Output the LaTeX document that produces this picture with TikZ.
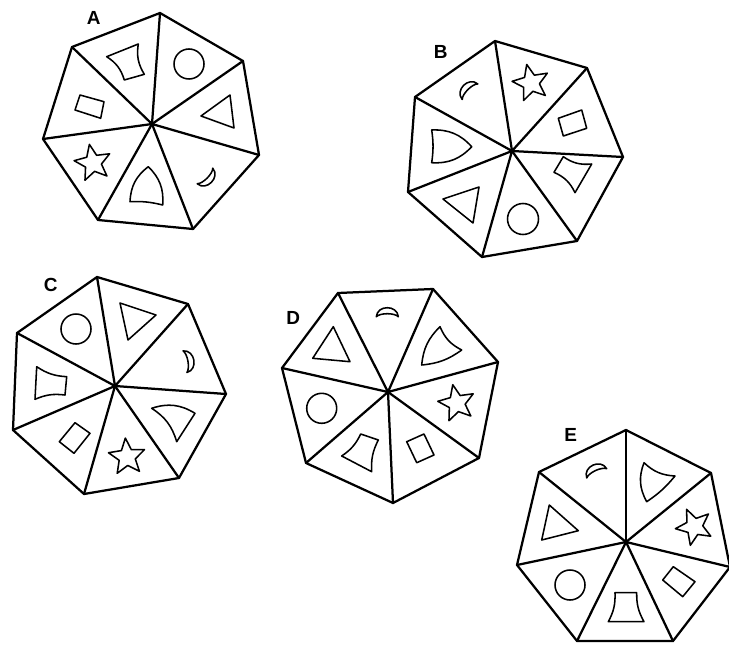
\documentclass[tikz,border=0pt]{standalone}
\usepackage{fontspec}
\setsansfont{Liberation Sans}
\usepackage{tkz-euclide}
\usetikzlibrary{calc}

\tikzset{
  shapeline/.style={line width=1.1pt,line join=round},
  tag/.style={font=\sffamily\bfseries\fontsize{13.5}{15}\selectfont,inner sep=0pt},
  starpic/.pic={
    \draw[shapeline] (90:19) \foreach \k in {1,...,4}{ -- ({90+72*\k-36}:8.5) -- ({90+72*\k}:19)} -- (54:8.5) -- cycle;
  },
  moonpic/.pic={
    \draw[shapeline] (-11,0) .. controls (-10,-12) and (10,-12) .. (11,0)
      .. controls (7,-4) and (-7,-4) .. (-11,0) -- cycle;
  }
}

\begin{document}
\begin{tikzpicture}[x=.25mm,y=.25mm]
\useasboundingbox (0,0) rectangle (729,646);
\tkzSetUpLine[line width=1.6pt,color=black]

% Figure A
\tkzDefPoints{152/522/aO,160/633/a1,243/585/a2,259/491/a3,193/417/a4,98/426/a5,43/507/a6,72/599/a7}
\tkzDrawPolygon[line width=1.6pt,line join=round](a1,a2,a3,a4,a5,a6,a7)
\tkzDrawSegments[line width=1.6pt](aO,a1 aO,a2 aO,a3 aO,a4 aO,a5 aO,a6 aO,a7)
\fill (aO) circle (2.5);
\node[tag] (labA) at (93.7,627.7) {A};

\draw[shapeline] (106.7,589.3) -- (138.3,602) to[bend right=20] (144.3,571.7) -- (124.3,566) to[bend right=20] (106.7,589.3) -- cycle;
\draw[shapeline] (189,582) circle (15);
\draw[shapeline] (230,551) -- (201,530) -- (234,518) -- cycle;
\pic[rotate=45] at (205,470) {moonpic};
\draw[shapeline] (148.3,479.3) to[bend left=25] (162.7,441) to[bend right=8] (130,444.3) to[bend left=25] (148.3,479.3) -- cycle;
\pic[rotate=11] at (93,483) {starpic};
\draw[shapeline] (80,551) -- (104,544.3) -- (100.7,527.7) -- (75,536) -- cycle;

% Figure B
\tkzDefPoints{512/495/bO,495/605/b1,587/578/b2,623/489/b3,577/405/b4,482/389/b5,408/454/b6,415/549/b7}
\tkzDrawPolygon[line width=1.6pt,line join=round](b1,b2,b3,b4,b5,b6,b7)
\tkzDrawSegments[line width=1.6pt](bO,b1 bO,b2 bO,b3 bO,b4 bO,b5 bO,b6 bO,b7)
\fill (bO) circle (2.5);
\node[tag] (labB) at (440.7,594.3) {B};

\pic[rotate=225] at (470,554.3) {moonpic};
\pic[rotate=13] at (531,563) {starpic};
\draw[shapeline] (558.3,527.7) -- (581.7,536) -- (586.7,517.7) -- (563.3,510) -- cycle;
\draw[shapeline] (563.3,489.3) to[bend right=20] (591.7,482) -- (575,453.3) to[bend right=20] (554,473.7) -- cycle;
\draw[shapeline] (523,427) circle (15.5);
\draw[shapeline] (443,447) -- (479,459) -- (473,423) -- cycle;
\draw[shapeline] (431.7,516) to[bend left=25] (471.7,499.3) to[bend left=25] (431.7,483.3) to[bend right=8] (431.7,516) -- cycle;

% Figure C
\tkzDefPoints{115/260/cO,97/369/c1,188/342/c2,226/252/c3,179/168/c4,84/152/c5,13/216/c6,17/313/c7}
\tkzDrawPolygon[line width=1.6pt,line join=round](c1,c2,c3,c4,c5,c6,c7)
\tkzDrawSegments[line width=1.6pt](cO,c1 cO,c2 cO,c3 cO,c4 cO,c5 cO,c6 cO,c7)
\fill (cO) circle (2.5);
\node[tag] (labC) at (50.7,361) {C};

\draw[shapeline] (76,317) circle (15);
\draw[shapeline] (120,343) -- (156,331) -- (128,306) -- cycle;
\pic[rotate=100] at (185,284.3) {moonpic};
\draw[shapeline] (151.7,237.7) to[bend left=25] (195,232.7) -- (176.7,204.3) to[bend right=20] (151.7,237.7) -- cycle;
\pic[rotate=5] at (127,189) {starpic};
\draw[shapeline] (75,223.3) -- (90,212.7) -- (74,192.7) -- (59.3,204.3) -- cycle;
\draw[shapeline] (36.7,279.3) to[bend right=15] (66.7,269.3) -- (65,251) to[bend right=15] (35,246.7) -- cycle;

% Figure D
\tkzDefPoints{388/254/dO,338/353/d1,433/357/d2,498/284/d3,479/188/d4,393/143/d5,306/183/d6,282/278/d7}
\tkzDrawPolygon[line width=1.6pt,line join=round](d1,d2,d3,d4,d5,d6,d7)
\tkzDrawSegments[line width=1.6pt](dO,d1 dO,d2 dO,d3 dO,d4 dO,d5 dO,d6 dO,d7)
\fill (dO) circle (2.5);
\node[tag] (labD) at (293.3,327.7) {D};

\pic[rotate=180] at (387.3,329.3) {moonpic};
\draw[shapeline] (440,319.3) to[bend right=20] (461.7,296) to[bend left=15] (421.7,281) to[bend left=20] (440,319.3) -- cycle;
\pic[rotate=12] at (456.7,242.7) {starpic};
\draw[shapeline] (406.7,204.3) -- (424,212) -- (434,191) -- (416.7,183.3) -- cycle;
\draw[shapeline] (360.7,212) -- (378.3,206) to[bend right=15] (371.7,174.3) -- (341.7,190) to[bend right=15] (360.7,212) -- cycle;
\draw[shapeline] (321.7,237.7) circle (15);
\draw[shapeline] (333.3,319.3) -- (350,284.3) -- (312.7,287.7) -- cycle;

% Figure E
\tkzDefPoints{626/104/eO,626/216/e1,711/173/e2,730/79/e3,673/5/e4,577/5/e5,517/81/e6,539/174/e7}
\tkzDrawPolygon[line width=1.6pt,line join=round](e1,e2,e3,e4,e5,e6,e7)
\tkzDrawSegments[line width=1.6pt](eO,e1 eO,e2 eO,e3 eO,e4 eO,e5 eO,e6 eO,e7)
\fill (eO) circle (2.5);
\node[tag] (labE) at (570.7,211) {E};

\pic[rotate=205] at (596.7,172.7) {moonpic};
\draw[shapeline] (644,183.3) to[bend right=20] (675,170) to[bend left=8] (646.7,144.3) to[bend left=25] (644,183.3) -- cycle;
\pic[rotate=24] at (694.3,119.3) {starpic};
\draw[shapeline] (673.3,79.3) -- (695,64.3) -- (682.7,49.3) -- (662.7,66) -- cycle;
\draw[shapeline] (615,53.3) -- (636.7,53.3) to[bend right=15] (644,24.3) -- (608.3,24.3) to[bend right=15] (615,53.3) -- cycle;
\draw[shapeline] (570,61) circle (15);
\draw[shapeline] (549.3,141) -- (578.3,115.3) -- (541.7,106) -- cycle;

\end{tikzpicture}
\end{document}
